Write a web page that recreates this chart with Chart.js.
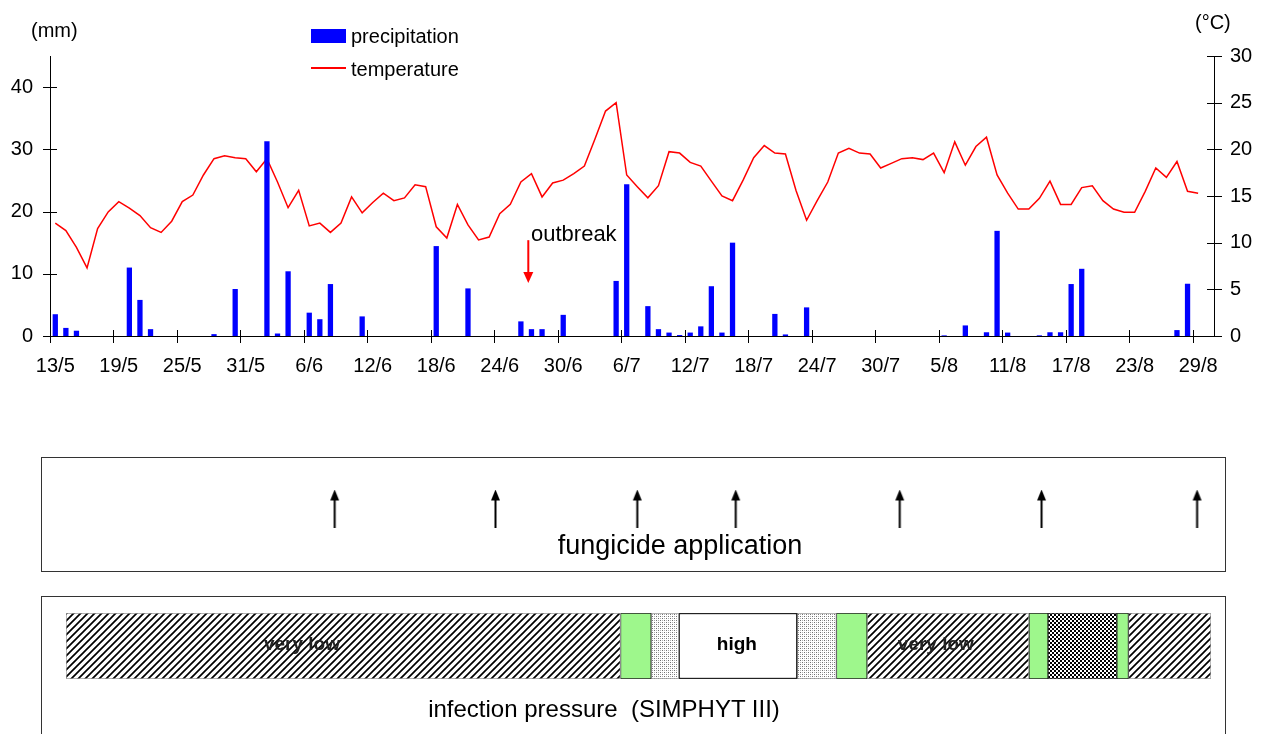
<!DOCTYPE html>
<html>
<head>
<meta charset="utf-8">
<script src="https://cdn.jsdelivr.net/npm/chart.js@4.4.1/dist/chart.umd.min.js"></script>
<style>
  body { margin: 0; background: #fff; font-family: "Liberation Sans", Arial, sans-serif; }
  #wrap { position: relative; width: 1268px; height: 734px; overflow: hidden; }
  canvas, .abs { position: absolute; }
  .abs { white-space: pre; color: #000; }
  .box { position: absolute; border: 1px solid #333; box-sizing: border-box; }
</style>
</head>
<body>
<div id="wrap">
  <canvas id="main" width="1268" height="400" style="left:0;top:0"></canvas>

  <div class="abs" style="left:31px;top:20px;font-size:20px;line-height:20px">(mm)</div>
  <div class="abs" style="left:1195px;top:12px;font-size:20px;line-height:20px">(°C)</div>

  <!-- legend -->
  <div class="abs" style="left:311px;top:29px;width:35px;height:14px;background:#0000ff"></div>
  <div class="abs" style="left:351px;top:26px;font-size:20px;line-height:20px">precipitation</div>
  <div class="abs" style="left:311px;top:67px;width:35px;height:1.5px;background:#ff0000"></div>
  <div class="abs" style="left:351px;top:59px;font-size:20px;line-height:20px">temperature</div>

  <div class="abs" style="left:531px;top:223px;font-size:22px;line-height:22px">outbreak</div>

  <div class="box" style="left:41px;top:457px;width:1185px;height:115px"></div>
  <canvas id="fung" width="1268" height="114" style="left:0;top:457px"></canvas>
  <div class="abs" style="left:380px;top:532px;width:600px;text-align:center;font-size:27px;line-height:27px">fungicide application</div>

  <div class="box" style="left:41px;top:596px;width:1185px;height:160px"></div>
  <canvas id="press" width="1268" height="138" style="left:0;top:596px"></canvas>
  <div class="abs" style="left:304px;top:697px;width:600px;text-align:center;font-size:24px;line-height:24px">infection pressure  (SIMPHYT III)</div>
</div>

<script>
// daily values 13/5 .. 30/8
const precipitation = [
  3.5, 1.3, 0.85, 0, 0, 0, 0, 11.0, 5.8, 1.1,
  0, 0, 0, 0, 0, 0.3, 0, 7.55, 0, 0,
  31.3, 0.4, 10.4, 0, 3.75, 2.7, 8.35, 0, 0, 3.15,
  0, 0, 0, 0, 0, 0, 14.45, 0, 0, 7.65,
  0, 0, 0, 0, 2.35, 1.1, 1.1, 0, 3.4, 0,
  0, 0, 0, 8.85, 24.4, 0, 4.8, 1.1, 0.55, 0.15,
  0.55, 1.55, 8.0, 0.55, 15.0, 0, 0, 0, 3.55, 0.25,
  0, 4.6, 0, 0, 0, 0, 0, 0, 0, 0,
  0, 0, 0, 0, 0.1, 0, 1.7, 0, 0.6, 16.9,
  0.55, 0, 0, 0.1, 0.6, 0.6, 8.35, 10.8, 0, 0,
  0, 0, 0, 0, 0, 0, 0.95, 8.4, 0, null
];
const temperature = [
  12.1, 11.3, 9.5, 7.3, 11.5, 13.3, 14.4, 13.7, 12.9, 11.6,
  11.1, 12.3, 14.4, 15.1, 17.25, 19.0, 19.3, 19.1, 19.0, 17.6,
  19.0, 16.5, 13.75, 15.6, 11.8, 12.1, 11.1, 12.1, 14.9, 13.2,
  14.3, 15.3, 14.5, 14.8, 16.2, 16.0, 11.7, 10.5, 14.1, 11.9,
  10.3, 10.6, 13.1, 14.1, 16.5, 17.4, 14.9, 16.4, 16.7, 17.4,
  18.2, 21.1, 24.1, 25.0, 17.25, 16.0, 14.8, 16.1, 19.75, 19.6,
  18.6, 18.2, 16.6, 15.0, 14.5, 16.7, 19.1, 20.4, 19.6, 19.5,
  15.6, 12.4, 14.5, 16.5, 19.6, 20.1, 19.6, 19.5, 18.0, 18.5,
  19.0, 19.1, 18.9, 19.6, 17.5, 20.8, 18.3, 20.3, 21.3, 17.25,
  15.3, 13.6, 13.6, 14.75, 16.6, 14.1, 14.1, 15.9, 16.1, 14.5,
  13.6, 13.25, 13.25, 15.5, 18.0, 17.0, 18.7, 15.5, 15.3, null
];
const precipTicks = [0, 10, 20, 30, 40];
const tempTicks = [0, 5, 10, 15, 20, 25, 30];
const outbreakDay = 44.7;

// fungicide spray days (index from 13/5)
const fungicideDays = [26.4, 41.6, 55, 64.3, 79.8, 93.2, 107.9];

// infection pressure segments, length in days
const pressureDays = [52.4, 2.9, 2.6, 11.2, 3.7, 2.9, 15.3, 1.8, 6.5, 1.1, 7.8];
const pressureFill = ['hatch', 'green', 'dots', 'white', 'dots', 'green', 'hatch', 'green', 'check', 'green', 'hatch'];
const pressureLabels = [[22.3, 'very low'], [63.4, 'high'], [82.2, 'very low']];

const days = [];
for (let d = new Date(2003, 4, 13); days.length < 110; d.setDate(d.getDate() + 1)) {
  days.push(d.getDate() + '/' + (d.getMonth() + 1));
}

const axisMarks = {
  id: 'axisMarks',
  afterDraw(chart) {
    const { ctx, chartArea: a, scales: { x, y, y1 } } = chart;
    ctx.save();
    ctx.strokeStyle = '#000';
    ctx.lineWidth = 1;
    ctx.beginPath();
    ctx.moveTo(a.left + 0.5, a.top); ctx.lineTo(a.left + 0.5, a.bottom);
    ctx.moveTo(a.right + 0.5, a.top); ctx.lineTo(a.right + 0.5, a.bottom);
    ctx.moveTo(a.left, a.bottom + 0.5); ctx.lineTo(a.right, a.bottom + 0.5);
    const half = (x.getPixelForValue(1) - x.getPixelForValue(0)) / 2;
    for (let i = 0; i < days.length; i += 6) {
      const px = Math.round(x.getPixelForValue(i) - half) + 0.5;
      ctx.moveTo(px, a.bottom - 6); ctx.lineTo(px, a.bottom + 7);
    }
    precipTicks.forEach(v => {
      const py = Math.round(y.getPixelForValue(v)) + 0.5;
      ctx.moveTo(a.left - 7, py); ctx.lineTo(a.left + 7, py);
    });
    tempTicks.forEach(v => {
      const py = Math.round(y1.getPixelForValue(v)) + 0.5;
      ctx.moveTo(a.right - 7, py); ctx.lineTo(a.right + 8, py);
    });
    ctx.stroke();

    // outbreak arrow
    const ax = x.getPixelForValue(outbreakDay);
    const top = y.getPixelForValue(15.4), tip = y.getPixelForValue(8.5);
    ctx.strokeStyle = '#ff0000';
    ctx.fillStyle = '#ff0000';
    ctx.lineWidth = 2;
    ctx.beginPath();
    ctx.moveTo(ax, top); ctx.lineTo(ax, tip - 8);
    ctx.stroke();
    ctx.beginPath();
    ctx.moveTo(ax, tip); ctx.lineTo(ax - 5, tip - 11); ctx.lineTo(ax + 5, tip - 11);
    ctx.closePath();
    ctx.fill();
    ctx.restore();
  }
};

const tickFont = { family: '"Liberation Sans", Arial, sans-serif', size: 20 };

new Chart(document.getElementById('main'), {
  data: {
    labels: days,
    datasets: [
      {
        type: 'bar', label: 'precipitation', data: precipitation, yAxisID: 'y',
        backgroundColor: '#0000ff', barPercentage: 0.5, categoryPercentage: 1
      },
      {
        type: 'line', label: 'temperature', data: temperature, yAxisID: 'y1',
        borderColor: '#ff0000', borderWidth: 1.5, pointRadius: 0, tension: 0, fill: false
      }
    ]
  },
  options: {
    responsive: false,
    animation: false,
    layout: { padding: { top: 56 } },
    plugins: { legend: { display: false }, tooltip: { enabled: false } },
    scales: {
      x: {
        offset: true,
        grid: { display: false, drawTicks: false },
        border: { display: false },
        ticks: {
          autoSkip: false, maxRotation: 0, minRotation: 0, padding: 18, color: '#000', font: tickFont,
          callback: (v, i) => (i % 6 === 0 ? days[i] : '')
        },
        afterFit: s => { s.height = 64; }
      },
      y: {
        position: 'left', min: 0, max: 45,
        grid: { display: false, drawTicks: false },
        border: { display: false },
        ticks: { padding: 17, color: '#000', font: tickFont },
        afterBuildTicks: s => { s.ticks = precipTicks.map(v => ({ value: v })); },
        afterFit: s => { s.width = 50; }
      },
      y1: {
        position: 'right', min: 0, max: 30,
        grid: { display: false, drawTicks: false },
        border: { display: false },
        ticks: { padding: 16, color: '#000', font: tickFont },
        afterBuildTicks: s => { s.ticks = tempTicks.map(v => ({ value: v })); },
        afterFit: s => { s.width = 54; }
      }
    }
  },
  plugins: [axisMarks]
});

// fungicide arrows
const arrow = document.createElement('canvas');
arrow.width = 11; arrow.height = 38;
(() => {
  const g = arrow.getContext('2d');
  g.fillStyle = '#000';
  g.fillRect(4.5, 8, 2, 30);
  g.beginPath();
  g.moveTo(5.5, 0); g.lineTo(1, 11); g.lineTo(10, 11);
  g.closePath();
  g.fill();
})();

new Chart(document.getElementById('fung'), {
  type: 'scatter',
  data: { datasets: [{ data: fungicideDays.map(d => ({ x: d, y: 0 })), pointStyle: arrow, pointRadius: 10 }] },
  options: {
    responsive: false,
    animation: false,
    layout: { padding: { left: 50, right: 54, top: 0, bottom: 22 } },
    plugins: { legend: { display: false }, tooltip: { enabled: false } },
    scales: { x: { display: false, min: -0.5, max: 109.5 }, y: { display: false, min: -1, max: 1 } }
  }
});

// infection pressure bar
const pressCtx = document.getElementById('press').getContext('2d');
function makePattern(kind) {
  const c = document.createElement('canvas');
  const g = c.getContext('2d');
  if (kind === 'hatch') {
    const s = 7;
    c.width = c.height = s;
    g.fillStyle = '#fff'; g.fillRect(0, 0, s, s);
    g.strokeStyle = '#000'; g.lineWidth = 1.7;
    g.beginPath();
    g.moveTo(-1, s + 1); g.lineTo(s + 1, -1);
    g.moveTo(-1, 1); g.lineTo(1, -1);
    g.moveTo(s - 1, s + 1); g.lineTo(s + 1, s - 1);
    g.stroke();
  } else if (kind === 'dots') {
    c.width = c.height = 4;
    g.fillStyle = '#fff'; g.fillRect(0, 0, 4, 4);
    g.fillStyle = '#707070'; g.fillRect(0, 0, 1, 1); g.fillRect(2, 2, 1, 1);
    g.fillStyle = '#b0b0b0'; g.fillRect(2, 0, 1, 1); g.fillRect(0, 2, 1, 1);
  } else {
    c.width = c.height = 4;
    g.fillStyle = '#fff'; g.fillRect(0, 0, 4, 4);
    g.fillStyle = '#000'; g.fillRect(0, 0, 2, 2); g.fillRect(2, 2, 2, 2);
  }
  return pressCtx.createPattern(c, 'repeat');
}
const fills = {
  hatch: makePattern('hatch'), dots: makePattern('dots'), check: makePattern('check'),
  green: '#9ef78c', white: '#ffffff'
};
const borders = { hatch: '#9a9a9a', dots: '#9a9a9a', check: '#333', green: '#222', white: '#222' };

const pressureText = {
  id: 'pressureText',
  afterDatasetsDraw(chart) {
    const { ctx, chartArea: a, scales: { x } } = chart;
    ctx.save();
    ctx.textAlign = 'center';
    ctx.textBaseline = 'middle';
    pressureLabels.forEach(([pos, txt]) => {
      ctx.font = txt === 'high' ? 'bold 19px "Liberation Sans", Arial' : 'bold 19px "Liberation Sans", Arial';
      ctx.fillStyle = txt === 'high' ? '#000' : '#222';
      ctx.fillText(txt, x.getPixelForValue(pos), (a.top + a.bottom) / 2 - 1);
    });
    ctx.restore();
  }
};

new Chart(pressCtx, {
  type: 'bar',
  data: {
    labels: ['pressure'],
    datasets: pressureDays.map((v, i) => ({
      data: [v],
      backgroundColor: fills[pressureFill[i]],
      borderColor: borders[pressureFill[i]],
      borderWidth: pressureFill[i] === 'white' ? 1.5 : 1,
      borderSkipped: false,
      barPercentage: 1,
      categoryPercentage: 1
    }))
  },
  options: {
    indexAxis: 'y',
    responsive: false,
    animation: false,
    layout: { padding: { left: 66, right: 57, top: 17, bottom: 55 } },
    plugins: { legend: { display: false }, tooltip: { enabled: false } },
    scales: {
      x: { display: false, stacked: true, min: 0, max: pressureDays.reduce((s, v) => s + v, 0) },
      y: { display: false, stacked: true }
    }
  },
  plugins: [pressureText]
});
</script>
</body>
</html>
